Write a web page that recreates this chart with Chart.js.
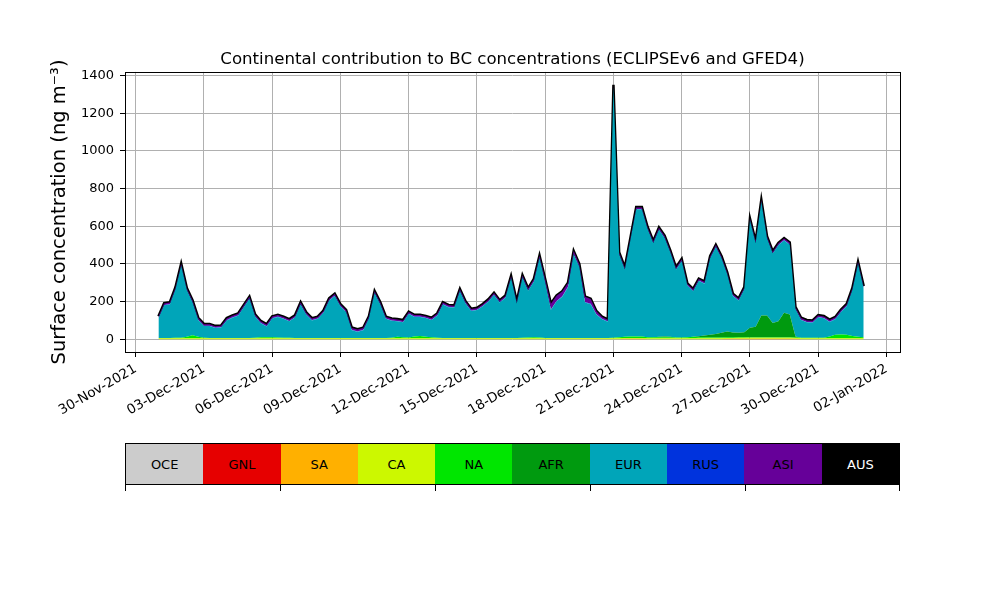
<!DOCTYPE html>
<html>
<head>
<meta charset="utf-8">
<script src="https://cdn.jsdelivr.net/npm/chart.js@4.4.1/dist/chart.umd.min.js"></script>
<style>
  body { margin: 0; background: #fff; font-family: "DejaVu Sans", sans-serif; }
  #wrap { position: relative; width: 1000px; height: 600px; }
  #bar { position: absolute; left: 125px; top: 443px; width: 775px; height: 42px; display: flex; box-sizing: border-box; border: 1px solid #000; }
  #bar div { flex: 1; display: flex; align-items: center; justify-content: center; font-size: 13px; color: #000; }
  .tk { position: absolute; top: 485px; width: 1px; height: 6px; background: #000; }
</style>
</head>
<body>
<div id="wrap">
  <canvas id="chart"></canvas>
  <div id="bar"></div>
</div>
<script>
//------data (6-hourly, 01-Dec-2021 00:00 .. 01-Jan-2022 00:00)
const regions = ['OCE', 'GNL', 'SA', 'CA', 'NA', 'AFR', 'EUR', 'RUS', 'ASI', 'AUS'];
const colors = ['#cccccc', '#e60000', '#ffb000', '#ccf800', '#00e600', '#009a0f', '#00a5b9', '#0033dd', '#660099', '#000000'];

const tickDays = [0, 3, 6, 9, 12, 15, 18, 21, 24, 27, 30, 33];
const tickLabels = ['30-Nov-2021', '03-Dec-2021', '06-Dec-2021', '09-Dec-2021', '12-Dec-2021', '15-Dec-2021',
    '18-Dec-2021', '21-Dec-2021', '24-Dec-2021', '27-Dec-2021', '30-Dec-2021', '02-Jan-2022'];
const yTicks = [0, 200, 400, 600, 800, 1000, 1200, 1400];

const sa = [
    0,0,0,0, 0,0,0,0, 0,0,0,0, 0,0,0,0, 0,0,0,0, 0,0,0,0, 0,0,0,0, 0,0,0,0, 0,0,0,0, 0,0,0,0,
    0,0,0,0, 0,0,0,0, 0,0,0,0, 0,0,0,0, 0,0,0,0, 0,0,0,0, 0,0,0,0, 0,0,0,0, 0,0,0,0, 0,0,0,0,
    0,0,2,2, 2,2,0,0, 0,0,0,0, 0,0,0,0, 0,0,0,0, 2,2,3,3, 3,3,3,3, 3,3,3,3, 2,0,0,0, 0,0,0,0,
    0,0,0,0, 0
];
const ca = [
    5,5,5,5, 5,5,5,5, 5,5,5,5, 5,5,5,5, 5,5,5,5, 5,5,5,5, 5,5,5,5, 5,5,5,5, 5,5,5,5, 5,5,5,5,
    5,5,5,5, 5,5,5,5, 5,5,5,5, 5,5,5,5, 5,5,5,5, 5,5,5,5, 5,5,5,5, 5,5,5,5, 5,5,5,5, 5,5,5,5,
    5,5,5,5, 5,5,5,5, 5,5,5,5, 5,5,5,5, 5,5,5,5, 5,5,5,5, 5,5,5,5, 5,5,5,5, 5,5,5,5, 5,5,5,5,
    5,5,5,5, 5
];
const na = [
    2,2,2,3, 3,8,16,8, 3,2,2,2, 2,2,2,2, 2,3,5,6, 5,4,3,3, 2,2,2,2, 2,2,2,2, 2,2,2,2, 2,2,2,2,
    2,3,8,6, 4,10,12,8, 5,3,2,2, 2,2,2,2, 2,2,2,2, 2,2,2,2, 3,4,5,4, 2,2,2,2, 2,2,2,2, 2,2,2,2,
    3,5,6,8, 8,8,6,5, 5,5,5,4, 4,6,8,6, 5,4,4,4, 4,4,4,4, 3,3,3,3, 3,3,3,3, 3,3,3,3, 3,3,10,18,
    20,18,12,8, 5
];
const afr = [
    0,0,0,0, 0,0,0,0, 0,0,0,0, 0,0,0,0, 0,0,0,0, 0,0,0,0, 0,0,0,0, 0,0,0,0, 0,0,0,0, 0,0,0,0,
    0,0,0,0, 0,0,0,0, 0,0,0,0, 0,0,0,0, 0,0,0,0, 0,0,0,0, 0,0,0,0, 0,0,0,0, 0,0,0,0, 0,0,0,0,
    0,0,0,0, 0,0,0,0, 3,4,3,0, 0,0,0,5, 10,15,18,25, 30,25,22,25, 50,55,115,115, 75,85,130,120, 5,0,0,0, 0,0,0,0,
    0,0,0,0, 0
];
const eur = [
    103,173,178,257, 382,247,174,89, 62,63,53,55, 93,107,118,163, 208,112,75,57,
    100,109,100,87, 108,178,123,93, 101,133,198,223, 168,136,41,32, 41,103,238,178,
    101,90,82,79, 126,103,101,99, 92,117,178,163, 161,248,183,143, 148,168,193,228,
    188,213,318,183, 320,249,296,422, 294,149,194,219, 269,444,377,188, 179,124,99,86,
    1332,440,357,515, 675,675,574,500, 569,524,447,361, 406,274,242,294, 275,406,463,396,
    304,194,171,228, 569,444,604,409, 369,404,384,371, 145,94,82,80, 108,103,77,83,
    120,152,243,387, 260
];
const rus = [
    2,2,2,2, 2,2,2,2, 2,2,2,2, 2,2,2,2, 2,2,2,2, 2,2,2,2, 2,2,2,2, 2,2,2,2, 2,2,2,2, 2,2,2,2,
    2,2,2,2, 2,2,2,2, 2,2,2,2, 2,2,2,2, 2,2,2,2, 2,2,2,2, 2,2,2,2, 2,2,2,2, 2,2,2,2, 2,2,2,2,
    2,2,2,2, 2,2,2,2, 2,2,2,2, 2,2,2,2, 2,2,2,2, 2,2,2,2, 2,2,2,2, 2,2,2,2, 2,2,2,2, 2,2,2,2,
    2,2,2,2, 2
];
const asi = [
    8,8,8,8, 8,8,8,8, 7,7,7,7, 8,8,8,8, 8,8,8,8, 8,8,8,8, 8,8,8,8, 8,8,8,8, 8,9,10,10, 9,8,8,8,
    8,8,8,8, 8,8,8,8, 8,8,8,8, 8,8,8,8, 8,8,8,8, 8,8,8,8, 9,9,11,11, 15,30,28,25, 20,15,12,28, 25,15,10,8,
    8,8,8,8, 8,8,8,8, 8,8,8,8, 8,8,8,8, 8,8,8,8, 8,8,8,8, 8,8,8,8, 8,8,8,8, 8,8,8,8, 8,8,8,8,
    8,8,8,8, 8
];
const aus = [
    2,2,2,2, 2,2,2,2, 2,2,2,2, 2,2,2,2, 2,2,2,2, 2,2,2,2, 2,2,2,2, 2,2,2,2, 2,2,2,2, 2,2,2,2,
    2,2,2,2, 2,2,2,2, 2,2,2,2, 2,2,2,2, 2,2,2,2, 2,2,2,2, 2,2,2,2, 2,2,2,2, 2,2,2,2, 2,2,2,2,
    2,2,2,2, 2,2,2,2, 2,2,2,2, 2,2,2,2, 2,2,2,2, 2,2,2,2, 2,2,2,2, 2,2,2,2, 2,2,2,2, 2,2,2,2,
    2,2,2,2, 2
];

// days since 30-Nov-2021 00:00
const startDay = 1;
const stepDay = 0.25;
const times = eur.map((v, i) => startDay + i * stepDay);

//------chart
const series = { SA: sa, CA: ca, NA: na, AFR: afr, EUR: eur, RUS: rus, ASI: asi, AUS: aus };
const datasets = Object.keys(series).map((name, k) => {
    const c = colors[regions.indexOf(name)];
    return {
        label: name,
        data: series[name].map((v, i) => ({ x: times[i], y: v })),
        borderColor: c,
        backgroundColor: c,
        borderWidth: name === 'AUS' ? 2.5 : 0,
        fill: k === 0 ? 'origin' : '-1',
        pointRadius: 0,
        tension: 0
    };
});

const frame = {
    id: 'frame',
    afterDraw(chart) {
        const a = chart.chartArea, ctx = chart.ctx;
        ctx.save();
        ctx.strokeStyle = '#000';
        ctx.lineWidth = 1;
        ctx.strokeRect(Math.round(a.left) + 0.5, Math.round(a.top) + 0.5, Math.round(a.right - a.left), Math.round(a.bottom - a.top));
        ctx.restore();
    }
};

Chart.defaults.font.family = '"DejaVu Sans", sans-serif';
Chart.defaults.color = '#000';

const config = {
    type: 'line',
    data: { datasets: datasets },
    options: {
        responsive: true,
        maintainAspectRatio: false,
        animation: false,
        layout: { padding: { top: 50, right: 100, bottom: 0, left: 0 } },
        plugins: {
            legend: { display: false },
            tooltip: { enabled: false },
            title: {
                display: true,
                fullSize: false,
                text: 'Continental contribution to BC concentrations (ECLIPSEv6 and GFED4)',
                font: { size: 16.6, weight: 'normal' },
                color: '#000',
                padding: { top: 0, bottom: 2 }
            }
        },
        scales: {
            x: {
                type: 'linear',
                min: -0.47,
                max: 33.595,
                afterBuildTicks: s => { s.ticks = tickDays.map(v => ({ value: v })); },
                afterFit: s => { s.height = 248; },
                ticks: {
                    autoSkip: false,
                    maxRotation: 30,
                    minRotation: 30,
                    padding: 4,
                    font: { size: 13.5 },
                    callback: v => tickLabels[tickDays.indexOf(v)]
                },
                grid: { color: '#b0b0b0', lineWidth: 1, tickColor: '#000', tickLength: 5 },
                border: { display: false }
            },
            y: {
                stacked: true,
                min: -68,
                max: 1420,
                afterBuildTicks: s => { s.ticks = yTicks.map(v => ({ value: v })); },
                afterFit: s => { s.width = 125; },
                ticks: { padding: 6, font: { size: 13 }, callback: v => String(v) },
                grid: { color: '#b0b0b0', lineWidth: 1, tickColor: '#000', tickLength: 5 },
                border: { display: false },
                title: {
                    display: true,
                    text: 'Surface concentration (ng m\u207B\u00B3)',
                    font: { size: 19.5 },
                    color: '#000',
                    padding: { top: 48, bottom: 0 }
                }
            }
        }
    },
    plugins: [frame]
};
const myChart = new Chart(document.getElementById('chart'), config);

//------colour bar legend
const bar = document.getElementById('bar');
regions.forEach((r, i) => {
    const d = document.createElement('div');
    d.style.background = colors[i];
    if (r === 'AUS') d.style.color = '#fff';
    d.textContent = r;
    bar.appendChild(d);
});
const wrap = document.getElementById('wrap');
[125, 280, 435, 590, 745, 899].forEach(x => {
    const t = document.createElement('div');
    t.className = 'tk';
    t.style.left = x + 'px';
    wrap.appendChild(t);
});
</script>
</body>
</html>
